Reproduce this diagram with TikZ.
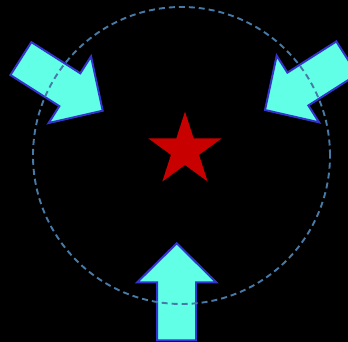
\documentclass[tikz,border=0pt]{standalone}
\definecolor{arrowfill}{RGB}{96,255,230}
\definecolor{arrowline}{RGB}{52,52,204}
\definecolor{ringcol}{RGB}{72,122,168}
\definecolor{starred}{RGB}{200,0,0}
\tikzset{
  bigarrow/.style={fill=arrowfill, draw=arrowline, line width=2pt, line join=miter},
  ring/.style={draw=ringcol, line width=1.9pt, dash pattern=on 6pt off 4pt},
  redstar/.style={fill=starred}
}
\begin{document}
\begin{tikzpicture}[x=1pt,y=1pt]
\fill[black] (0,0) rectangle (348,342);
\useasboundingbox (0,0) rectangle (348,342);
% arrows
\foreach \px/\py/\ang in {102.7/231.3/-32.5, 265/232/212.5, 176.7/98.7/90}{
  \draw[bigarrow, shift={(\px,\py)}, rotate=\ang]
    (0,0) -- (-39,39.5) -- (-39,19.5) -- (-97,19.5) -- (-97,-19.5) -- (-39,-19.5) -- (-39,-39.5) -- cycle;
}
% dashed ring
\coordinate (c) at (181.5,186.5);
\draw[ring] (c) circle[radius=148.5];
% star
\coordinate (s) at (185,191.7);
\fill[redstar, shift={(185,191.7)}] (90:38.6) -- (126:14.75) -- (162:38.6) -- (198:14.75) -- (234:38.6) -- (270:14.75) -- (306:38.6) -- (342:14.75) -- (18:38.6) -- (54:14.75) -- cycle;
\end{tikzpicture}
\end{document}
